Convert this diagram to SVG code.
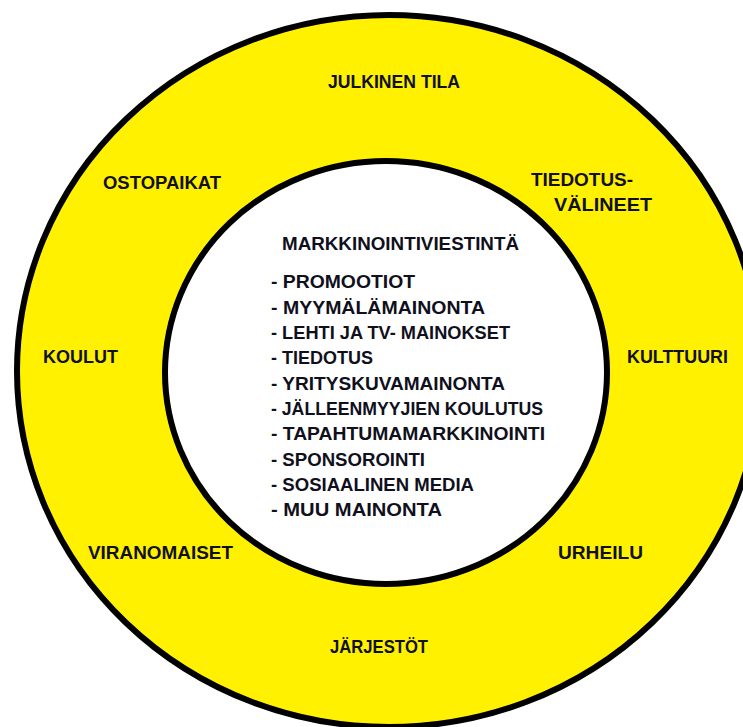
<svg xmlns="http://www.w3.org/2000/svg" width="743" height="727" viewBox="0 0 743 727">
<style>
.ring{fill:#FFF100;stroke:#000;stroke-width:6}
.core{fill:#fff;stroke:#000;stroke-width:6}
text{font-family:"Liberation Sans",Arial,sans-serif;font-weight:bold;font-size:19px;fill:#10101c}
</style>
<rect width="743" height="727" fill="#fff"/>
<g id="outer-ring">
<ellipse class="ring" cx="389" cy="371" rx="372" ry="356"/>
</g>
<g id="inner-circle">
<ellipse class="core" cx="386" cy="372.5" rx="221" ry="211.5"/>
</g>
<g id="julkinen-tila"><text x="328" y="88" textLength="132" lengthAdjust="spacingAndGlyphs">JULKINEN TILA</text></g>
<g id="ostopaikat"><text x="103" y="189" textLength="118" lengthAdjust="spacingAndGlyphs">OSTOPAIKAT</text></g>
<g id="tiedotusvalineet">
<text x="531" y="186" textLength="102" lengthAdjust="spacingAndGlyphs">TIEDOTUS-</text>
<text x="554" y="211" textLength="98" lengthAdjust="spacingAndGlyphs">VÄLINEET</text>
</g>
<g id="koulut"><text x="43" y="363" textLength="75" lengthAdjust="spacingAndGlyphs">KOULUT</text></g>
<g id="kulttuuri"><text x="627" y="363" textLength="101" lengthAdjust="spacingAndGlyphs">KULTTUURI</text></g>
<g id="viranomaiset"><text x="88" y="559" textLength="145" lengthAdjust="spacingAndGlyphs">VIRANOMAISET</text></g>
<g id="urheilu"><text x="558" y="559" textLength="85" lengthAdjust="spacingAndGlyphs">URHEILU</text></g>
<g id="jarjestot"><text x="330" y="653" textLength="98" lengthAdjust="spacingAndGlyphs">JÄRJESTÖT</text></g>
<g id="markkinointiviestinta">
<text x="282" y="250" textLength="237" lengthAdjust="spacingAndGlyphs">MARKKINOINTIVIESTINTÄ</text>
<text x="271" y="288" textLength="144" lengthAdjust="spacingAndGlyphs">- PROMOOTIOT</text>
<text x="271" y="313.5" textLength="214" lengthAdjust="spacingAndGlyphs">- MYYMÄLÄMAINONTA</text>
<text x="271" y="339" textLength="239" lengthAdjust="spacingAndGlyphs">- LEHTI JA TV- MAINOKSET</text>
<text x="271" y="364" textLength="102" lengthAdjust="spacingAndGlyphs">- TIEDOTUS</text>
<text x="271" y="389.5" textLength="234" lengthAdjust="spacingAndGlyphs">- YRITYSKUVAMAINONTA</text>
<text x="271" y="415" textLength="272" lengthAdjust="spacingAndGlyphs">- JÄLLEENMYYJIEN KOULUTUS</text>
<text x="271" y="440" textLength="274" lengthAdjust="spacingAndGlyphs">- TAPAHTUMAMARKKINOINTI</text>
<text x="271" y="465.5" textLength="154" lengthAdjust="spacingAndGlyphs">- SPONSOROINTI</text>
<text x="271" y="491" textLength="203" lengthAdjust="spacingAndGlyphs">- SOSIAALINEN MEDIA</text>
<text x="271" y="516" textLength="171" lengthAdjust="spacingAndGlyphs">- MUU MAINONTA</text>
</g>
</svg>
